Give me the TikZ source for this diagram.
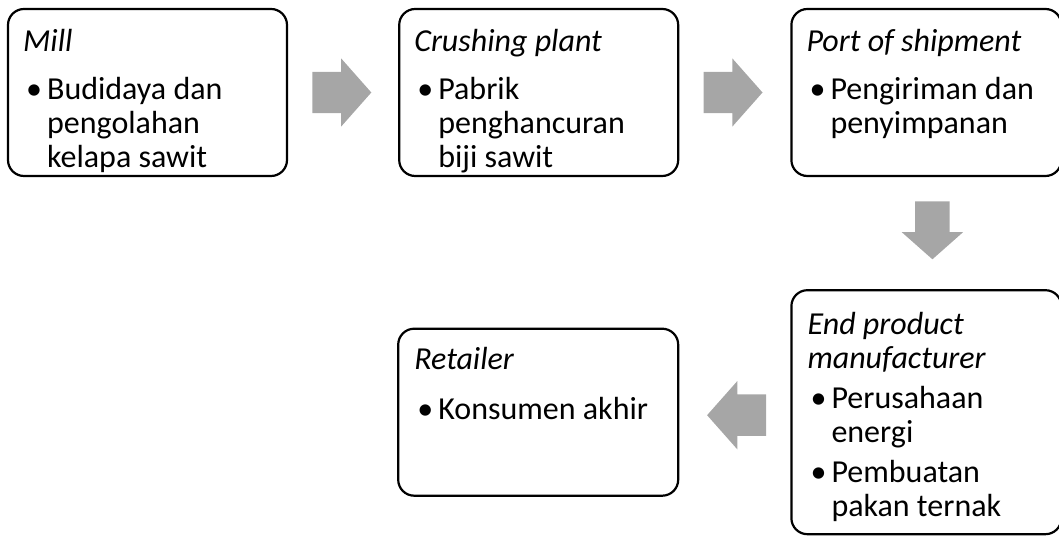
\documentclass[tikz,border=0pt]{standalone}
\usepackage{fontspec}
\setmainfont{Carlito}
\usetikzlibrary{positioning,calc,shapes.arrows}
\definecolor{arrowgray}{RGB}{166,166,166}

\newcommand{\boxitem}[2]{\vspace{#1}\hangindent=24pt\hangafter=1\noindent\makebox[24pt][l]{\hspace{3pt}\textbullet}#2\par}

\begin{document}
\begin{tikzpicture}[x=1pt,y=1pt,node distance=110pt,
    stage/.style={rectangle,draw,line width=2.2pt,rounded corners=16pt,minimum width=279pt,minimum height=167pt,inner sep=0pt},
    stagetext/.style={anchor=base west,inner sep=0pt,font=\fontsize{32}{34}\selectfont},
    flow/.style={single arrow,fill=arrowgray,draw=none,anchor=tail,inner xsep=0pt,inner ysep=20.5pt,minimum height=59pt,single arrow head extend=13.5pt,single arrow tip angle=97}]

  \useasboundingbox (0,0) rectangle (1059,535);

  % top row
  \node[stage] (mill) at (147.5,442.5) {};
  \node[stage] (crush) [right=110pt of mill] {};
  \node[stage,minimum width=270pt] (port) [right=111pt of crush] {};

  % bottom row
  \node[stage,minimum width=270pt,minimum height=244pt] (maker) [below=112pt of port] {};
  \node[stage,minimum width=280pt] (retail) [left=111pt of maker] {};

  % texts
  \node[stagetext] (mill-text) at ($(mill.north west)+(16,-44)$)
    {\parbox[t]{250pt}{{\itshape Mill}\par
      \boxitem{14pt}{Budidaya dan\\pengolahan\\kelapa sawit}}};
  \node[stagetext] (crush-text) at ($(crush.north west)+(16,-44)$)
    {\parbox[t]{250pt}{{\itshape Crushing plant}\par
      \boxitem{14pt}{Pabrik\\penghancuran\\biji sawit}}};
  \node[stagetext] (port-text) at ($(port.north west)+(16,-44)$)
    {\parbox[t]{250pt}{{\itshape Port of shipment}\par
      \boxitem{14pt}{Pengiriman dan\\penyimpanan}}};
  \node[stagetext] (maker-text) at ($(maker.north west)+(17,-45)$)
    {\parbox[t]{250pt}{{\itshape End product\\manufacturer}\par
      \boxitem{6pt}{Perusahaan\\energi}
      \boxitem{6pt}{Pembuatan\\pakan ternak}}};
  \node[stagetext] (retail-text) at ($(retail.north west)+(17,-42)$)
    {\parbox[t]{250pt}{{\itshape Retailer}\par
      \boxitem{16pt}{Konsumen akhir}}};

  % block arrows
  \node[flow] (step1) at ($(mill.east)+(24,0)$) {};
  \node[flow] (step2) at ($(crush.east)+(24,0)$) {};
  \node[flow,shape border rotate=270,inner xsep=17pt,inner ysep=0pt,minimum height=58pt] (step3) at ($(port.south)+(6,-24)$) {};
  \node[flow,shape border rotate=180] (step4) at ($(maker.west)+(-24,-3)$) {};
\end{tikzpicture}
\end{document}
